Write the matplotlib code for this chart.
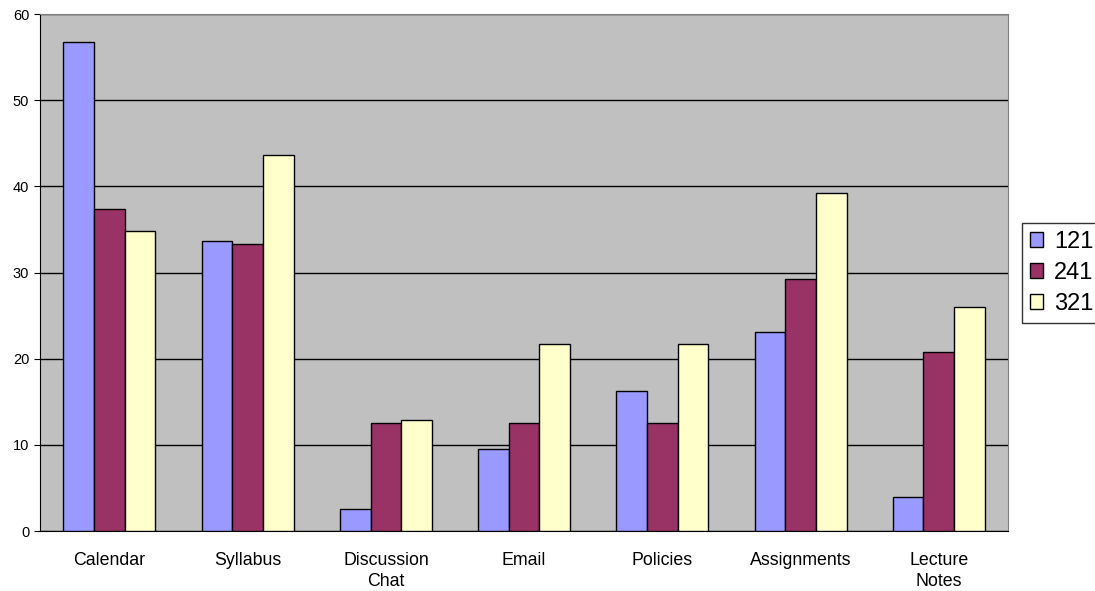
import matplotlib.pyplot as plt
import numpy as np

plt.rcParams['font.family'] = ['Liberation Sans', 'DejaVu Sans']

categories = ["Calendar", "Syllabus", "Discussion\nChat", "Email", "Policies",
              "Assignments", "Lecture\nNotes"]
series_names = ["121", "241", "321"]
v121 = [56.8, 33.7, 2.6, 9.5, 16.2, 23.1, 4.0]
v241 = [37.4, 33.3, 12.5, 12.5, 12.5, 29.2, 20.8]
v321 = [34.8, 43.6, 12.9, 21.7, 21.7, 39.2, 26.0]
colors = ["#9999FF", "#993366", "#FFFFCC"]

fig = plt.figure(figsize=(10.95, 5.91), dpi=100)
ax = fig.add_axes([0.0368, 0.1015, 0.8837, 0.8745])
ax.set_facecolor("#C0C0C0")

x = np.arange(len(categories))
w = 0.222
for i, (vals, name) in enumerate(zip([v121, v241, v321], series_names)):
  ax.bar(x + (i - 1) * w, vals, w, color=colors[i], edgecolor="black",
         linewidth=1, label=name, zorder=3)

ax.set_xlim(-0.5, len(categories) - 0.5)
ax.set_ylim(0, 60)
ax.set_yticks(range(0, 61, 10))
ax.yaxis.grid(True, color="black", linewidth=1, zorder=1)
ax.set_axisbelow(True)
ax.set_xticks(x)
ax.set_xticklabels(categories, fontsize=12.8, linespacing=1.3)
ax.tick_params(axis="x", length=0, pad=15)
ax.tick_params(axis="y", length=4, labelsize=10.5, pad=4)
for s in ["top", "right"]:
  ax.spines[s].set_color("#808080")
for s in ["left", "bottom"]:
  ax.spines[s].set_color("black")

leg = fig.legend(loc="upper left", bbox_to_anchor=(1022 / 1095, 1 - 222.5 / 591),
                 fontsize=17, frameon=True, fancybox=False, edgecolor="black",
                 handlelength=0.55, handleheight=0.65, handletextpad=0.45,
                 borderpad=0.35, labelspacing=0.38, borderaxespad=0)
leg.get_frame().set_linewidth(1)

fig.savefig("out.png", dpi=100)
